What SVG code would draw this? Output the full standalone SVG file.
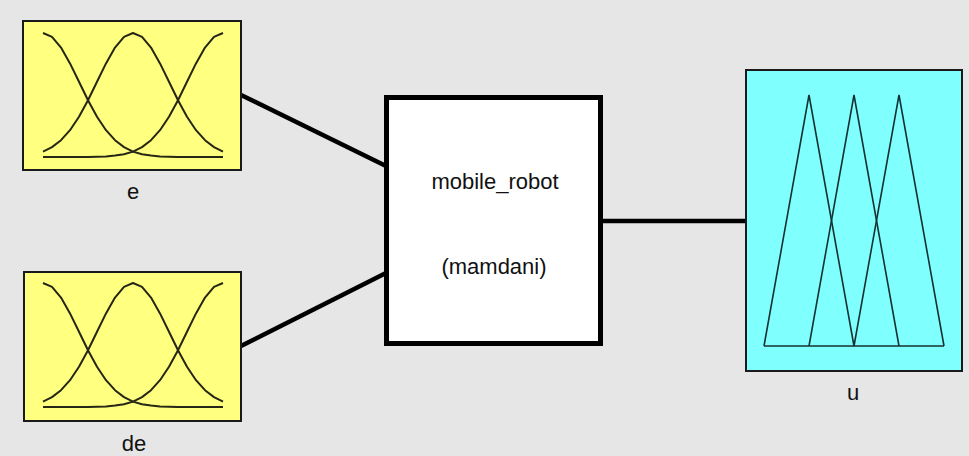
<svg xmlns="http://www.w3.org/2000/svg" width="969" height="456" viewBox="0 0 969 456">
<style>
.bg{fill:#e6e6e6}
.inbox{fill:#ffff80;stroke:#1a1a1a;stroke-width:2}
.outbox{fill:#80ffff;stroke:#1a1a1a;stroke-width:2}
.sysbox{fill:#ffffff;stroke:#000;stroke-width:5}
.mf{fill:none;stroke:#262614;stroke-width:2;stroke-linejoin:round}
.tri{fill:none;stroke:#143232;stroke-width:1.6;stroke-linejoin:miter}
.conn{stroke:#000;stroke-width:4.5;fill:none}
.lbl{font-family:"Liberation Sans",Arial,sans-serif;font-size:22px;fill:#111;text-anchor:middle}
</style>
<defs>
<g id="gauss">
<polyline class="mf" points="43,33 52,36.8 61,47.6 70,63.4 79,81.8 88,100.2 97,116.7 106,130.2 115,140.2 124,147.1 133,151.6 142,154.2 151,155.6 160,156.4 169,156.7 178,156.9 187,157 223,157"/>
<polyline class="mf" points="43,151.6 52,147.1 61,140.2 70,130.2 79,116.7 88,100.2 97,81.8 106,63.4 115,47.6 124,36.8 133,33 142,36.8 151,47.6 160,63.4 169,81.8 178,100.2 187,116.7 196,130.2 205,140.2 214,147.1 223,151.6"/>
<polyline class="mf" points="223,33 214,36.8 205,47.6 196,63.4 187,81.8 178,100.2 169,116.7 160,130.2 151,140.2 142,147.1 133,151.6 124,154.2 115,155.6 106,156.4 97,156.7 88,156.9 79,157 43,157"/>
</g>
</defs>
<rect class="bg" x="0" y="0" width="969" height="456"/>
<g id="connectors">
<line class="conn" x1="241" y1="95" x2="386" y2="166"/>
<line class="conn" x1="241" y1="346" x2="386" y2="273"/>
<line class="conn" x1="602" y1="221" x2="747" y2="221"/>
</g>
<g id="node-e">
<rect class="inbox" x="23" y="21" width="218" height="149"/>
<use href="#gauss"/>
<text class="lbl" x="133" y="199">e</text>
</g>
<g id="node-de">
<rect class="inbox" x="24" y="272" width="217" height="149"/>
<use href="#gauss" transform="translate(0,250)"/>
<text class="lbl" x="134" y="451">de</text>
</g>
<g id="node-system">
<rect class="sysbox" x="386.5" y="97.5" width="214" height="246"/>
<text class="lbl" x="495" y="189">mobile_robot</text>
<text class="lbl" x="494" y="274">(mamdani)</text>
</g>
<g id="node-u">
<rect class="outbox" x="746" y="70" width="216" height="301"/>
<polyline class="tri" points="764,346 809,95 854,346"/>
<polyline class="tri" points="809,346 854,95 899,346"/>
<polyline class="tri" points="854,346 899,95 944,346"/>
<line class="tri" x1="764" y1="346" x2="944" y2="346"/>
<text class="lbl" x="853" y="400">u</text>
</g>
</svg>
